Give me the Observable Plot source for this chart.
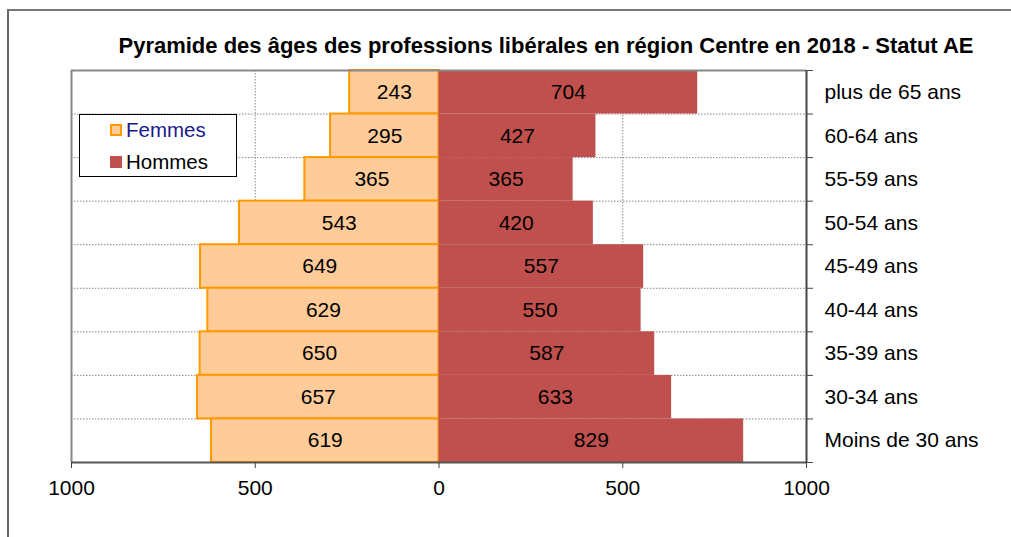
<!DOCTYPE html>
<html>
<head>
<meta charset="utf-8">
<script src="https://cdn.jsdelivr.net/npm/d3@7"></script>
<script src="https://cdn.jsdelivr.net/npm/@observablehq/plot@0.6"></script>
<style>
  html, body { margin: 0; padding: 0; background: white; }
  #wrap { position: relative; width: 1011px; height: 537px; overflow: hidden; color: black;
          font-family: Arial, "Liberation Sans", sans-serif; }
  #frame { position: absolute; left: 7px; top: 9px; width: 1100px; height: 600px;
           border-left: 2px solid #666; border-top: 2px solid #777; }
  #title { position: absolute; left: 0; width: 1092px; top: 33px; text-align: center;
           font-weight: bold; font-size: 22px; white-space: nowrap; }
  #legend { position: absolute; left: 79px; top: 114px; width: 156px; height: 61px;
            border: 1px solid #000; background: white; font-size: 20.5px; }
  .item { position: absolute; left: 30px; display: flex; align-items: center; line-height: 1; }
  .sw { width: 8px; height: 8px; margin-right: 4px; box-sizing: content-box; }
  svg { position: absolute; left: 0; top: 0; }
</style>
</head>
<body>
<div id="wrap">
  <div id="chart"></div>
  <div id="frame"></div>
  <div id="title">Pyramide des âges des professions libérales en région Centre en 2018 - Statut AE</div>
  <div id="legend"></div>
</div>
<script>
// Data (top to bottom)
const categories = ["plus de 65 ans", "60-64 ans", "55-59 ans", "50-54 ans", "45-49 ans",
                    "40-44 ans", "35-39 ans", "30-34 ans", "Moins de 30 ans"];
const femmes = [243, 295, 365, 543, 649, 629, 650, 657, 619];
const hommes = [704, 427, 365, 420, 557, 550, 587, 633, 829];
const xTicks = [-1000, -500, 0, 500, 1000];
const seriesNames = ["Femmes", "Hommes"];

const femColor = "#FFCC99", femStroke = "#FF9900", homColor = "#C0504D";
const fs = 21;

const n = categories.length;
const rows = categories.map((c, i) => ({cat: c, pos: n - 1 - i, f: femmes[i], h: hommes[i]}));

const plot = Plot.plot({
  width: 1011,
  height: 537,
  marginLeft: 71,
  marginRight: 205,
  marginTop: 70,
  marginBottom: 75,
  style: {fontFamily: "Arial, 'Liberation Sans', sans-serif", fontSize: fs + "px", background: "transparent", color: "black"},
  x: {domain: [-1000, 1000]},
  y: {domain: [0, n]},
  marks: [
    Plot.ruleY(d3.range(1, n), {stroke: "#888", strokeDasharray: "1.5,1.5"}),
    Plot.ruleX([-500, 0, 500], {stroke: "#888", strokeDasharray: "1.5,1.5"}),
    Plot.rectX(rows, {x1: d => -d.f, x2: 0, y1: d => d.pos, y2: d => d.pos + 1,
                      fill: femColor, stroke: femStroke, strokeWidth: 2, inset: 0}),
    Plot.rectX(rows, {x1: 0, x2: d => d.h, y1: d => d.pos, y2: d => d.pos + 1,
                      fill: homColor, inset: 0}),
    Plot.text(rows, {x: d => -d.f / 2, y: d => d.pos + 0.5, text: d => String(d.f), fontSize: fs, fill: "black"}),
    Plot.text(rows, {x: d => d.h / 2, y: d => d.pos + 0.5, text: d => String(d.h), fontSize: fs, fill: "black"}),
    Plot.ruleX([-1000], {stroke: "#888", strokeWidth: 2}),
    Plot.ruleY([n], {stroke: "#888", strokeWidth: 2}),
    Plot.ruleY([0], {stroke: "#555", strokeWidth: 2}),
    Plot.ruleX([1000], {stroke: "#444", strokeWidth: 2}),
    Plot.axisX({ticks: xTicks, tickFormat: d => String(Math.abs(d)), tickSize: 6, tickPadding: 12, stroke: "#444", fill: "black", fontSize: fs}),
    Plot.axisY({anchor: "right", ticks: d3.range(0, n + 1), tickFormat: () => "", tickSize: 6, stroke: "#444"}),
    Plot.text(rows, {x: 1000, y: d => d.pos + 0.5, text: "cat", dx: 18, textAnchor: "start", fontSize: fs, fill: "black"})
  ]
});
document.getElementById("chart").appendChild(plot);

// Legend
const legend = document.getElementById("legend");
const legendStyles = [
  {fill: femColor, border: "2px solid " + femStroke, color: "#1a1a8c", top: 5},
  {fill: homColor, border: "2px solid " + homColor, color: "black", top: 37}
];
seriesNames.forEach((name, i) => {
  const s = legendStyles[i];
  const item = document.createElement("div");
  item.className = "item";
  item.style.top = s.top + "px";
  const sw = document.createElement("div");
  sw.className = "sw";
  sw.style.background = s.fill;
  sw.style.border = s.border;
  const t = document.createElement("span");
  t.textContent = name;
  t.style.color = s.color;
  item.appendChild(sw);
  item.appendChild(t);
  legend.appendChild(item);
});
</script>
</body>
</html>
